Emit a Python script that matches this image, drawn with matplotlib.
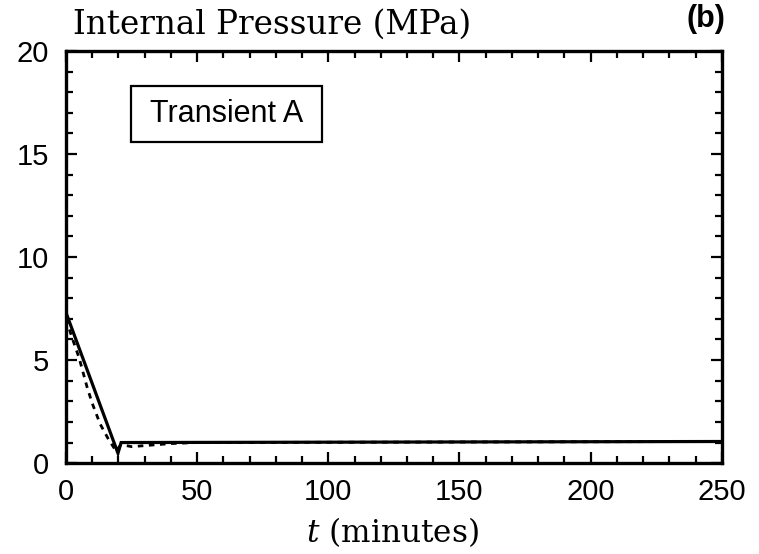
import matplotlib
matplotlib.use("Agg")
import matplotlib.pyplot as plt
from matplotlib.patches import Rectangle
from matplotlib.ticker import MultipleLocator

# Internal pressure histories for transient A
t_solid = [0, 19.8, 21, 250]
p_solid = [7.3, 0.48, 1.0, 1.05]

t_dashed = [0, 2, 5, 8, 10, 13, 16, 19, 21, 25, 30, 40, 50, 250]
p_dashed = [7.0, 6.2, 5.1, 3.7, 2.9, 1.9, 1.2, 0.6, 0.9, 0.8, 0.85, 0.95, 1.0, 1.05]

x_ticks = [0, 50, 100, 150, 200, 250]
y_ticks = [0, 5, 10, 15, 20]

sans = ["Liberation Sans", "DejaVu Sans"]
serif = ["DejaVu Serif"]

plt.rcParams["mathtext.fontset"] = "custom"
plt.rcParams["mathtext.it"] = "DejaVu Serif:italic"
plt.rcParams["mathtext.rm"] = "DejaVu Serif"

fig = plt.figure(figsize=(7.59, 5.54), dpi=100)
ax = fig.add_axes([0.087, 0.164, 0.864, 0.744])

ax.plot(t_solid, p_solid, color="black", lw=2.3, solid_joinstyle="miter")
ax.plot(t_dashed, p_dashed, color="black", lw=2.0, linestyle=(0, (2, 2)))

ax.set_xlim(0, 250)
ax.set_ylim(0, 20)
ax.set_xticks(x_ticks)
ax.set_yticks(y_ticks)
ax.xaxis.set_minor_locator(MultipleLocator(10))
ax.yaxis.set_minor_locator(MultipleLocator(1))
ax.tick_params(which="both", direction="in", top=True, right=True, width=1.6, color="black")
ax.tick_params(which="major", length=8, labelsize=21)
ax.tick_params(axis="x", which="major", pad=11)
ax.tick_params(axis="y", which="major", pad=12)
ax.tick_params(which="minor", length=5)
for lab in ax.get_xticklabels() + ax.get_yticklabels():
    lab.set_family(sans)
for s in ax.spines.values():
    s.set_linewidth(2.4)

fig.text(0.517, 0.0217, r"$t$ (minutes)", family=serif, fontsize=22.4,
         ha="center", va="baseline")
fig.text(0.096, 0.940, "Internal Pressure (MPa)", family=serif,
         fontsize=23.5, ha="left", va="baseline")
fig.text(0.956, 0.992, "(b)", family=sans, fontsize=22,
         fontweight="bold", ha="right", va="top")

# Label box
ax.add_patch(Rectangle((0.099, 0.778), 0.291, 0.138, transform=ax.transAxes,
                       fill=False, edgecolor="black", lw=1.6))
ax.text(0.2445, 0.847, "Transient A", transform=ax.transAxes, family=sans,
        fontsize=22, ha="center", va="center")

fig.savefig("out.png", dpi=100)
